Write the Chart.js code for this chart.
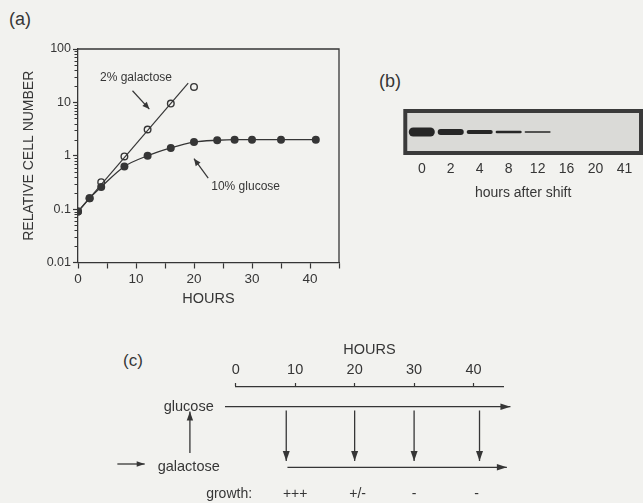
<!DOCTYPE html>
<html><head><meta charset="utf-8">
<script src="https://cdn.jsdelivr.net/npm/chart.js@4.4.1/dist/chart.umd.min.js"></script>
<style>
html,body{margin:0;padding:0;background:#f2f2ef;}
#wrap{position:relative;width:643px;height:503px;overflow:hidden;font-family:"Liberation Sans",Arial,sans-serif;color:#363636;}
.cv{position:absolute;}
.lbl{position:absolute;font-size:18px;line-height:1;}
</style></head><body>
<div id="wrap">
<div class="lbl" style="left:9px;top:10px">(a)</div>
<div class="lbl" style="left:379px;top:72px">(b)</div>
<div class="lbl" style="left:123px;top:352px;font-size:17px">(c)</div>
<div class="cv" style="left:0;top:0;width:345px;height:312px"><canvas id="cA"></canvas></div>
<div class="cv" style="left:395px;top:95px;width:248px;height:109px"><canvas id="cB"></canvas></div>
<div class="cv" style="left:100px;top:330px;width:430px;height:173px"><canvas id="cC"></canvas></div>
</div>
<script>
// ---- panel (a) data ----
const galHours = [0, 2, 4, 8, 12, 16, 20];
const galValues = [0.09, 0.16, 0.32, 0.97, 3.1, 9.5, 19.5];
const gluHours = [0, 2, 4, 8, 12, 16, 20, 24, 27, 30, 35, 41];
const gluValues = [0.09, 0.16, 0.26, 0.63, 1.0, 1.4, 1.8, 1.95, 2.0, 2.0, 2.0, 2.0];
const galFitHours = [0, 19];
const galFitValues = [0.09, 23];
const yTickValues = [0.01, 0.1, 1, 10, 100];
const yTickLabels = ['0.01', '0.1', '1', '10', '100'];
// ---- panel (b) data ----
const laneLabels = ['0', '2', '4', '8', '12', '16', '20', '41'];
const bandHalfHeight = [0.45, 0.3, 0.2, 0.13, 0.08, 0, 0, 0];
// ---- panel (c) data ----
const timelineTicks = [0, 10, 20, 30, 40];
const shiftHours = [8.5, 20, 30, 41];
const growthHours = [10, 20.5, 30, 40.5];
const growthLabels = ['+++', '+/-', '-', '-'];

const FAMILY = '"Liberation Sans", Arial, Helvetica, sans-serif';
const INK = '#363636';
const BG = '#f2f2ef';
Chart.defaults.font.family = FAMILY;
Chart.defaults.color = INK;

function arrow(ctx, x1, y1, x2, y2, len, half) {
  ctx.beginPath(); ctx.moveTo(x1, y1); ctx.lineTo(x2, y2); ctx.stroke();
  const a = Math.atan2(y2 - y1, x2 - x1);
  ctx.beginPath();
  ctx.moveTo(x2, y2);
  ctx.lineTo(x2 - len * Math.cos(a) + half * Math.sin(a), y2 - len * Math.sin(a) - half * Math.cos(a));
  ctx.lineTo(x2 - len * Math.cos(a) - half * Math.sin(a), y2 - len * Math.sin(a) + half * Math.cos(a));
  ctx.closePath(); ctx.fill();
}

const pts = (xs, ys) => xs.map((x, i) => ({x: x, y: ys[i]}));

// ---------- Chart A ----------
const frameA = {
  id: 'frameA',
  afterDraw(chart) {
    const {ctx, chartArea: ca, scales} = chart;
    ctx.save();
    ctx.strokeStyle = INK; ctx.fillStyle = INK; ctx.lineWidth = 1.3;
    ctx.beginPath();
    ctx.moveTo(ca.left, ca.top); ctx.lineTo(ca.right, ca.top); ctx.lineTo(ca.right, ca.bottom);
    ctx.stroke();
    // minor log ticks
    ctx.lineWidth = 1;
    const y = scales.y;
    for (let d = 0.01; d < 100; d *= 10) {
      for (let m = 2; m <= 9; m++) {
        const py = Math.round(y.getPixelForValue(d * m)) + 0.5;
        ctx.beginPath(); ctx.moveTo(ca.left - 3.5, py); ctx.lineTo(ca.left, py); ctx.stroke();
      }
    }
    // annotations
    const x = scales.x;
    ctx.font = '12px ' + FAMILY;
    ctx.textAlign = 'center'; ctx.textBaseline = 'middle';
    ctx.fillText('2% galactose', x.getPixelForValue(10.0), y.getPixelForValue(29));
    ctx.fillText('10% glucose', x.getPixelForValue(28.9), y.getPixelForValue(0.26));
    ctx.lineWidth = 1.2;
    arrow(ctx, x.getPixelForValue(9.4), y.getPixelForValue(16.5), x.getPixelForValue(12.3), y.getPixelForValue(7.5), 7, 3);
    arrow(ctx, x.getPixelForValue(22.45), y.getPixelForValue(0.38), x.getPixelForValue(20.0), y.getPixelForValue(0.88), 7, 3);
    ctx.restore();
  }
};

new Chart(document.getElementById('cA'), {
  type: 'line',
  data: {
    datasets: [
      {label: '10% glucose', data: pts(gluHours, gluValues), borderColor: INK, borderWidth: 1.3,
       pointRadius: 4, pointBackgroundColor: INK, pointBorderColor: INK, pointBorderWidth: 0,
       cubicInterpolationMode: 'monotone'},
      {label: '2% galactose fit', data: pts(galFitHours, galFitValues), borderColor: INK, borderWidth: 1.2, pointRadius: 0},
      {label: '2% galactose', data: pts(galHours, galValues), showLine: false, pointRadius: 3.3,
       pointBackgroundColor: BG, pointBorderColor: INK, pointBorderWidth: 1.4}
    ]
  },
  options: {
    animation: false, responsive: true, maintainAspectRatio: false,
    layout: {padding: {top: 49, right: 6, left: 0, bottom: 0}},
    plugins: {legend: {display: false}, tooltip: {enabled: false}},
    scales: {
      x: {
        type: 'linear', min: 0, max: 45,
        ticks: {stepSize: 5, autoSkip: false, maxRotation: 0, color: INK, font: {size: 13.5}, padding: 3,
                callback: v => (v % 10 === 0 && v <= 40) ? String(v) : ''},
        grid: {drawOnChartArea: false, tickLength: 6, tickColor: INK, tickWidth: 1.2},
        border: {color: INK, width: 1.3},
        title: {display: true, text: 'HOURS', font: {size: 14.5}, color: INK, padding: 4},
        afterFit(s) { s.height = 312 - 262.5; }
      },
      y: {
        type: 'logarithmic', min: 0.01, max: 100,
        afterBuildTicks(s) { s.ticks = yTickValues.map(v => ({value: v})); },
        ticks: {color: INK, font: {size: 12.5}, padding: 2, callback: (v, i) => yTickLabels[i]},
        grid: {drawOnChartArea: false, tickLength: 5, tickColor: INK, tickWidth: 1.2},
        border: {color: INK, width: 1.3},
        title: {display: true, text: 'RELATIVE CELL NUMBER', font: {size: 14}, color: INK, padding: 21},
        afterFit(s) { s.width = 78; }
      }
    }
  },
  plugins: [frameA]
});

// ---------- Chart B (gel) ----------
const gelBox = {
  id: 'gelBox',
  beforeDatasetsDraw(chart) {
    const {ctx, chartArea: ca} = chart;
    ctx.save();
    ctx.fillStyle = '#dadad7';
    ctx.fillRect(ca.left, ca.top, ca.right - ca.left, ca.bottom - ca.top);
    ctx.strokeStyle = '#3a3a3a'; ctx.lineWidth = 4;
    ctx.strokeRect(ca.left - 2, ca.top - 2, ca.right - ca.left + 4, ca.bottom - ca.top + 4);
    ctx.restore();
  }
};
new Chart(document.getElementById('cB'), {
  type: 'bar',
  data: {
    labels: laneLabels,
    datasets: [{data: bandHalfHeight.map(h => h > 0 ? [-h, h] : null), backgroundColor: '#262626',
                borderRadius: 5, borderSkipped: false, barPercentage: 0.9, categoryPercentage: 1}]
  },
  options: {
    animation: false, responsive: true, maintainAspectRatio: false,
    layout: {padding: {left: 12.3, right: 4, top: 18, bottom: 0}},
    plugins: {legend: {display: false}, tooltip: {enabled: false}},
    scales: {
      x: {
        grid: {display: false}, border: {display: false},
        ticks: {color: INK, font: {size: 14}, padding: 2, maxRotation: 0},
        title: {display: true, text: 'hours after shift', font: {size: 14}, color: INK, padding: 2},
        afterFit(s) { s.height = 53; }
      },
      y: {display: false, min: -1.9, max: 1.9}
    }
  },
  plugins: [gelBox]
});

// ---------- Chart C (timeline) ----------
const timeline = {
  id: 'timeline',
  afterDraw(chart) {
    const {ctx, scales: {x, y}} = chart;
    const X = h => x.getPixelForValue(h), Y = r => y.getPixelForValue(r);
    ctx.save();
    ctx.strokeStyle = INK; ctx.fillStyle = INK; ctx.lineWidth = 1.3;
    // glucose arrow
    arrow(ctx, X(-1.8), Y(19.7), X(46.2), Y(19.7), 10, 3.2);
    // shift arrows
    shiftHours.forEach(h => arrow(ctx, X(h), Y(23.5), X(h), Y(74), 10, 3.5));
    // galactose arrow
    arrow(ctx, X(shiftHours[0] + 0.2), Y(80.3), X(45.6), Y(80.3), 10, 3.2);
    // up arrow and entry arrow
    arrow(ctx, X(-7.7), Y(66), X(-7.7), Y(24.5), 9, 3.2);
    arrow(ctx, X(-19.9), Y(77), X(-15.3), Y(77), 8, 2.8);
    ctx.font = '14.5px ' + FAMILY;
    ctx.textAlign = 'center'; ctx.textBaseline = 'middle';
    ctx.fillText('glucose', X(-7.9), Y(19.5));
    ctx.fillText('galactose', X(-7.9), Y(80));
    ctx.font = '14px ' + FAMILY;
    ctx.textAlign = 'right';
    ctx.fillText('growth:', X(2.75), Y(107));
    ctx.textAlign = 'center';
    growthLabels.forEach((t, i) => ctx.fillText(t, X(growthHours[i]), Y(107)));
    ctx.restore();
  }
};
new Chart(document.getElementById('cC'), {
  type: 'scatter',
  data: {datasets: [{data: []}]},
  options: {
    animation: false, responsive: true, maintainAspectRatio: false,
    layout: {padding: {left: 135.7, right: 26.7, top: 0, bottom: 16}},
    plugins: {legend: {display: false}, tooltip: {enabled: false}},
    scales: {
      x: {
        type: 'linear', position: 'top', min: 0, max: 45,
        afterBuildTicks(s) { s.ticks = timelineTicks.map(v => ({value: v})); },
        ticks: {color: INK, font: {size: 14.5}, padding: 4, maxRotation: 0},
        grid: {drawOnChartArea: false, tickLength: 4, tickColor: INK, tickWidth: 1.2},
        border: {color: INK, width: 1.3},
        title: {display: true, text: 'HOURS', font: {size: 14.5}, color: INK, padding: 11},
        afterFit(s) { s.height = 57; }
      },
      y: {display: false, min: 0, max: 100, reverse: true}
    }
  },
  plugins: [timeline]
});
</script>
</body></html>
